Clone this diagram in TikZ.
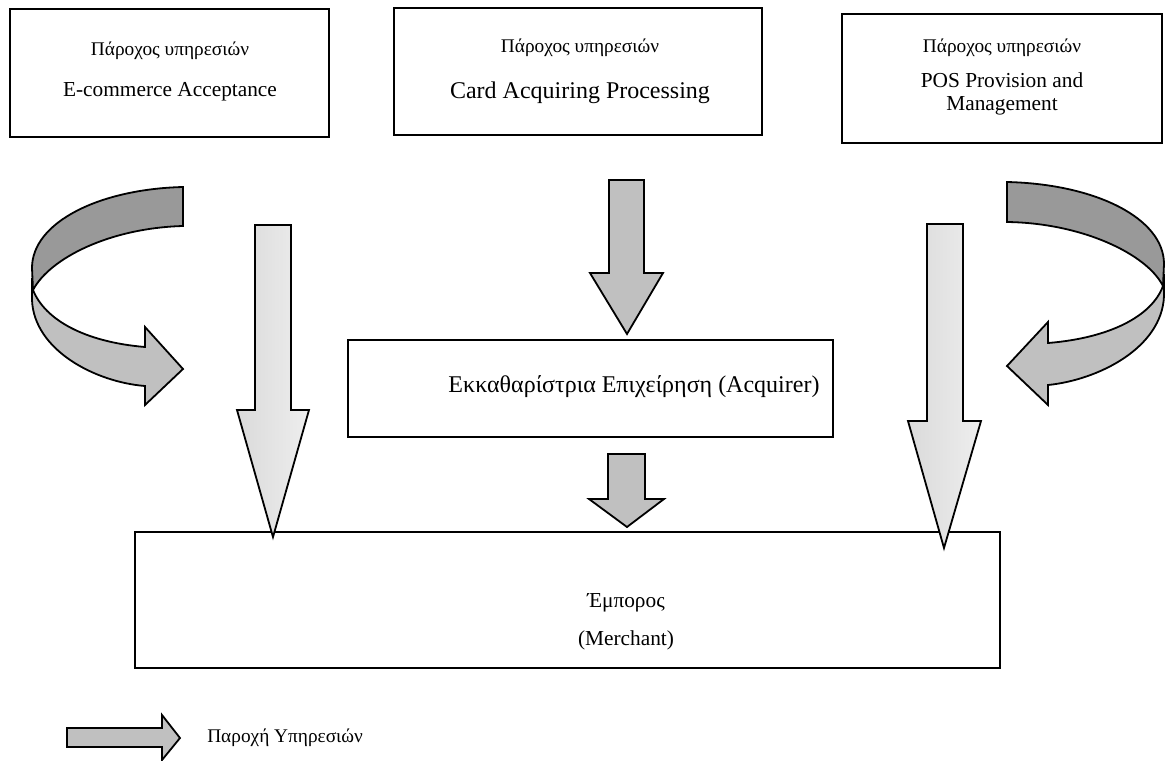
\documentclass[tikz,border=0pt]{standalone}
\usepackage{fontspec}
\setmainfont{Liberation Serif}
\usetikzlibrary{fit}
\definecolor{bandDark}{RGB}{153,153,153}
\definecolor{bandLight}{RGB}{192,192,192}
\definecolor{longA}{RGB}{218,218,218}
\definecolor{longB}{RGB}{238,238,238}
\begin{document}
\begin{tikzpicture}[x=0.75pt,y=-0.75pt,
  boxnode/.style={draw, line width=1.5pt, inner sep=0pt},
  txt/.style={inner sep=0pt, anchor=center},
  blk/.style={draw, line width=1.35pt, line join=miter, fill=bandLight},
  blkdark/.style={draw, line width=1.35pt, line join=miter, fill=bandDark},
  longarrow/.style={draw, line width=1.35pt, line join=miter, left color=longA, right color=longB},
  f14/.style={font=\fontsize{14.5}{17}\selectfont},
  f16/.style={font=\fontsize{16}{19}\selectfont},
  f18/.style={font=\fontsize{18}{21}\selectfont}]
\useasboundingbox (0,0) rectangle (1165,761);

% boxes
\node[boxnode, fit={(10,9) (329,137)}] (b1) {};
\node[boxnode, fit={(394,8) (762,135)}] (b2) {};
\node[boxnode, fit={(842,14) (1162,143)}] (b3) {};
\node[boxnode, fit={(348,340) (833,437)}] (acq) {};
\node[boxnode, fit={(135,532) (1000,668)}] (mer) {};

% texts
\node[txt, f14] (t1a) at (170,51) {Πάροχος υπηρεσιών};
\node[txt, f16] (t1b) at (170,92) {E-commerce Acceptance};
\node[txt, f14] (t2a) at (580,48) {Πάροχος υπηρεσιών};
\node[txt, f18] (t2b) at (580,93) {Card Acquiring Processing};
\node[txt, f14] (t3a) at (1002,48) {Πάροχος υπηρεσιών};
\node[txt, f16] (t3b) at (1002,80) {POS Provision and};
\node[txt, f16] (t3c) at (1002,106) {Management};
\node[txt, f18] (tacq) at (634,387) {Εκκαθαρίστρια Επιχείρηση (Acquirer)};
\node[txt, f16] (tm1) at (626,603) {Έμπορος};
\node[txt, f16] (tm2) at (626,640) {(Merchant)};
\node[inner sep=0pt, anchor=west, f14] (leg) at (207,738) {Παροχή Υπηρεσιών};

% straight block arrows
\path[blk] (609,180) -- (644,180) -- (644,273) -- (663,273) -- (627,334) -- (590,273) -- (609,273) -- cycle;
\path[blk] (608,454) -- (645,454) -- (645,499) -- (664,499) -- (627,527) -- (589,499) -- (608,499) -- cycle;
\path[longarrow] (255,225) -- (291,225) -- (291,410) -- (309,410) -- (273,537) -- (237,410) -- (255,410) -- cycle;
\path[longarrow] (927,224) -- (963,224) -- (963,421) -- (981,421) -- (944,548) -- (908,421) -- (927,421) -- cycle;

% legend arrow
\path[blk] (67,728) -- (162,728) -- (162,715) -- (180,738) -- (162,760) -- (162,747) -- (67,747) -- cycle;

% left curved arrow
\path[blk] (32,278) -- (32,300) .. controls (34,350) and (95,382) .. (145,386) -- (145,405) -- (183,369) -- (145,327) -- (145,347) .. controls (85,342) and (45,320) .. (33,290) -- cycle;
\path[blkdark] (183,187) .. controls (100,189) and (32,222) .. (32,268) -- (33,290) .. controls (50,258) and (110,228) .. (183,226) -- cycle;

% right curved arrow
\path[blk] (1164,274) -- (1164,296) .. controls (1162,348) and (1098,380) .. (1048,385) -- (1048,405) -- (1007,366) -- (1048,322) -- (1048,343) .. controls (1110,338) and (1152,316) .. (1163,286) -- cycle;
\path[blkdark] (1007,182) .. controls (1095,184) and (1164,218) .. (1164,264) -- (1163,286) .. controls (1147,254) and (1082,223) .. (1007,222) -- cycle;
\end{tikzpicture}
\end{document}
